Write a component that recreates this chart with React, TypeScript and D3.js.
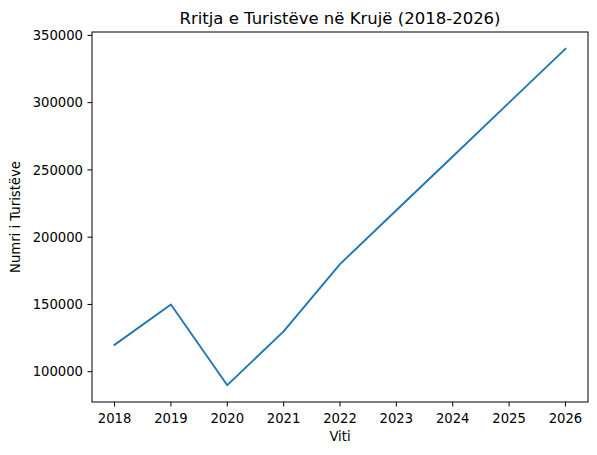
import React from "react";
import * as d3 from "d3";

const years = [2018, 2019, 2020, 2021, 2022, 2023, 2024, 2025, 2026];
const tourists = [120000, 150000, 90000, 130000, 180000, 220000, 260000, 300000, 340000];
const yTicks = [100000, 150000, 200000, 250000, 300000, 350000];
const title = "Rritja e Turistëve në Krujë (2018-2026)";
const xLabel = "Viti";
const yLabel = "Numri i Turistëve";

const W = 597, H = 455;
const L = 92, R = 588, T = 32, B = 402;
const font = "DejaVu Sans, sans-serif";

export default function App() {
  const x = d3.scaleLinear().domain([2017.6, 2026.4]).range([L, R]);
  const y = d3.scaleLinear().domain([77500, 352500]).range([B, T]);
  const line = d3.line<number>().x((_, i) => x(years[i])).y((d) => y(d));
  return (
    <svg width={W} height={H} style={{ position: "absolute", left: 0, top: 0, background: "#fff" }} fontFamily={font}>
      <rect x={0} y={0} width={W} height={H} fill="#fff" />
      <path d={line(tourists) || ""} fill="none" stroke="#1f77b4" strokeWidth={1.9} strokeLinejoin="round" strokeLinecap="square" />
      <rect x={L} y={T} width={R - L} height={B - T} fill="none" stroke="#000" strokeWidth={1} />
      {years.map((yr) => (
        <g key={yr}>
          <line x1={x(yr)} x2={x(yr)} y1={B} y2={B + 4.5} stroke="#000" strokeWidth={1} />
          <text x={x(yr)} y={423} textAnchor="middle" fontSize={13.2} fill="#000">{yr}</text>
        </g>
      ))}
      {yTicks.map((v) => (
        <g key={v}>
          <line x1={L - 4.5} x2={L} y1={y(v)} y2={y(v)} stroke="#000" strokeWidth={1} />
          <text x={L - 9} y={y(v)} dy="0.36em" textAnchor="end" fontSize={13.2} fill="#000">{v}</text>
        </g>
      ))}
      <text x={(L + R) / 2} y={23.5} textAnchor="middle" fontSize={16.5} fill="#000">{title}</text>
      <text x={(L + R) / 2} y={441} textAnchor="middle" fontSize={13.2} fill="#000">{xLabel}</text>
      <text transform={`translate(20,${(T + B) / 2}) rotate(-90)`} textAnchor="middle" fontSize={13.2} fill="#000">{yLabel}</text>
    </svg>
  );
}
